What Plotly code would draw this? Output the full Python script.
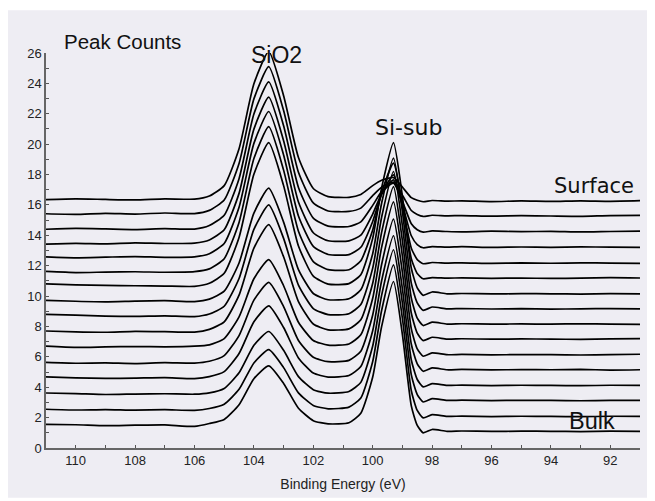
import plotly.graph_objects as go

# Binding energy grid (eV)
energy = [111.0, 110.0, 109.0, 108.0, 107.0, 106.0, 105.5, 105.0, 104.5, 104.0,
          103.5, 103.0, 102.5, 102.0, 101.5, 100.8, 100.4, 100.0, 99.7, 99.3,
          99.0, 98.7, 98.5, 98.3, 98.0, 97.5, 97.0, 96.0, 95.0, 94.0, 93.0, 92.0, 91.0]

# Offset spectra, surface (top) to bulk (bottom)
scan_01 = [16.35, 16.40, 16.36, 16.33, 16.40, 16.38, 16.59, 17.27, 19.70, 23.97,
           26.10, 23.19, 19.12, 17.08, 16.55, 16.50, 16.69, 17.27, 17.62, 17.80,
           17.17, 16.48, 16.31, 16.21, 16.29, 16.25, 16.27, 16.22, 16.26, 16.23, 16.27, 16.24, 16.28]
scan_02 = [15.42, 15.38, 15.45, 15.40, 15.47, 15.43, 15.64, 16.32, 18.73, 22.98,
           25.10, 22.21, 18.15, 16.13, 15.60, 15.57, 15.79, 16.61, 17.16, 17.50,
           16.64, 15.63, 15.37, 15.24, 15.32, 15.28, 15.30, 15.26, 15.29, 15.27, 15.25, 15.30, 15.31]
scan_03 = [14.40, 14.45, 14.42, 14.38, 14.44, 14.41, 14.64, 15.32, 17.73, 21.98,
           24.10, 21.21, 17.15, 15.13, 14.60, 14.58, 14.88, 15.97, 16.87, 17.43,
           16.24, 14.76, 14.37, 14.21, 14.29, 14.25, 14.23, 14.27, 14.24, 14.26, 14.22, 14.25, 14.27]
scan_04 = [13.42, 13.47, 13.44, 13.50, 13.46, 13.49, 13.69, 14.36, 16.76, 20.99,
           23.10, 20.22, 16.19, 14.17, 13.64, 13.63, 14.01, 15.40, 16.73, 17.65,
           16.03, 13.97, 13.39, 13.18, 13.26, 13.22, 13.25, 13.20, 13.23, 13.21, 13.24, 13.22, 13.20]
scan_05 = [12.58, 12.52, 12.56, 12.60, 12.55, 12.58, 12.79, 13.46, 15.85, 20.05,
           22.15, 19.29, 15.27, 13.27, 12.74, 12.73, 13.21, 14.91, 16.70, 17.98,
           15.91, 13.15, 12.40, 12.13, 12.21, 12.17, 12.19, 12.15, 12.18, 12.16, 12.19, 12.17, 12.15]
scan_06 = [11.62, 11.55, 11.58, 11.60, 11.57, 11.61, 11.79, 12.46, 14.85, 19.05,
           21.15, 18.29, 14.27, 12.27, 11.74, 11.73, 12.33, 14.35, 16.80, 18.75,
           16.06, 12.46, 11.48, 11.14, 11.22, 11.18, 11.20, 11.17, 11.19, 11.16, 11.18, 11.21, 11.19]
scan_07 = [10.80, 10.74, 10.70, 10.68, 10.66, 10.64, 10.84, 11.50, 13.86, 18.02,
           20.10, 17.27, 13.30, 11.31, 10.79, 10.82, 11.41, 13.80, 17.12, 20.10,
           16.57, 11.83, 10.54, 10.05, 10.27, 10.15, 10.17, 10.14, 10.16, 10.15, 10.13, 10.16, 10.15]
scan_08 = [9.72, 9.66, 9.62, 9.67, 9.70, 9.64, 9.80, 10.32, 12.18, 15.46,
           17.10, 14.87, 11.74, 10.17, 9.76, 9.82, 10.41, 12.79, 16.11, 19.08,
           15.56, 10.84, 9.55, 9.06, 9.28, 9.16, 9.18, 9.15, 9.17, 9.14, 9.16, 9.18, 9.16]
scan_09 = [8.80, 8.74, 8.68, 8.66, 8.70, 8.65, 8.82, 9.33, 11.16, 14.39,
           16.00, 13.80, 10.72, 9.18, 8.78, 8.84, 9.44, 11.84, 15.19, 18.20,
           14.63, 9.86, 8.55, 8.06, 8.28, 8.16, 8.18, 8.15, 8.17, 8.15, 8.18, 8.16, 8.14]
scan_10 = [7.70, 7.64, 7.62, 7.68, 7.66, 7.63, 7.81, 8.30, 10.06, 13.15,
           14.70, 12.59, 9.64, 8.16, 7.78, 7.84, 8.44, 10.84, 14.19, 17.20,
           13.64, 8.87, 7.56, 7.07, 7.29, 7.17, 7.19, 7.16, 7.18, 7.17, 7.15, 7.18, 7.20]
scan_11 = [6.70, 6.62, 6.65, 6.68, 6.66, 6.70, 6.79, 7.20, 8.63, 11.14,
           12.40, 10.68, 8.28, 7.08, 6.77, 6.85, 7.45, 9.86, 13.21, 16.20,
           12.63, 7.84, 6.53, 6.04, 6.26, 6.14, 6.16, 6.13, 6.15, 6.14, 6.12, 6.15, 6.17]
scan_12 = [5.63, 5.58, 5.60, 5.56, 5.62, 5.59, 5.71, 6.08, 7.40, 9.73,
           10.90, 9.31, 7.08, 5.97, 5.68, 5.77, 6.37, 8.75, 12.08, 15.07,
           11.56, 6.83, 5.54, 5.05, 5.27, 5.15, 5.17, 5.14, 5.16, 5.15, 5.17, 5.13, 5.15]
scan_13 = [4.68, 4.62, 4.58, 4.60, 4.63, 4.57, 4.70, 5.03, 6.22, 8.31,
           9.36, 7.93, 5.93, 4.93, 4.67, 4.77, 5.36, 7.72, 11.01, 13.97,
           10.48, 5.79, 4.51, 4.02, 4.24, 4.12, 4.14, 4.11, 4.13, 4.12, 4.10, 4.13, 4.12]
scan_14 = [3.62, 3.58, 3.52, 3.55, 3.57, 3.54, 3.63, 3.92, 4.95, 6.76,
           7.67, 6.43, 4.70, 3.84, 3.61, 3.72, 4.32, 6.71, 10.05, 13.05,
           9.54, 4.81, 3.52, 3.03, 3.25, 3.13, 3.15, 3.12, 3.14, 3.13, 3.11, 3.14, 3.13]
scan_15 = [2.55, 2.50, 2.53, 2.49, 2.52, 2.48, 2.60, 2.88, 3.86, 5.60,
           6.47, 5.29, 3.63, 2.80, 2.58, 2.69, 3.29, 5.69, 9.05, 12.06,
           8.53, 3.77, 2.47, 1.98, 2.20, 2.08, 2.10, 2.07, 2.09, 2.08, 2.06, 2.09, 2.08]
scan_16 = [1.55, 1.53, 1.47, 1.50, 1.52, 1.42, 1.61, 1.88, 2.85, 4.56,
           5.41, 4.25, 2.62, 1.80, 1.59, 1.66, 2.29, 4.67, 7.99, 10.96,
           7.47, 2.77, 1.49, 1.00, 1.22, 1.10, 1.12, 1.09, 1.11, 1.10, 1.08, 1.11, 1.10]

scans = [scan_01, scan_02, scan_03, scan_04, scan_05, scan_06, scan_07, scan_08,
         scan_09, scan_10, scan_11, scan_12, scan_13, scan_14, scan_15, scan_16]

x_ticks = [110, 108, 106, 104, 102, 100, 98, 96, 94, 92]
y_ticks = [0, 2, 4, 6, 8, 10, 12, 14, 16, 18, 20, 22, 24, 26]

BG = "#EEEDF3"
fig = go.Figure()
for s in scans:
    fig.add_trace(go.Scatter(x=energy, y=s, mode="lines",
                             line=dict(color="black", width=1.7, shape="spline", smoothing=0.55),
                             showlegend=False, hoverinfo="skip"))

axis_font = dict(family="Liberation Sans, Arial, sans-serif", size=13, color="#222")
fig.update_layout(
    width=647, height=493,
    margin=dict(l=38, r=15, t=45, b=53, autoexpand=False),
    paper_bgcolor="white", plot_bgcolor=BG,
    xaxis=dict(range=[111, 91], autorange=False, tickmode="array", tickvals=x_ticks,
               ticks="inside", ticklen=3, tickcolor="#555", showline=True, linecolor="#666",
               linewidth=1.5, showgrid=False, zeroline=False, tickfont=axis_font, automargin=False,
               minor=dict(tickmode="linear", tick0=0, dtick=1, ticks="inside", ticklen=3, tickcolor="#555"),
               title=dict(text="Binding Energy (eV)", font=dict(family="Liberation Sans, Arial, sans-serif", size=14, color="#222"), standoff=12)),
    yaxis=dict(range=[0, 26], autorange=False, tickmode="array", tickvals=y_ticks,
               ticks="inside", ticklen=3, tickcolor="#555", showline=True, linecolor="#666",
               linewidth=1.5, showgrid=False, zeroline=False, tickfont=axis_font, automargin=False,
               minor=dict(tickmode="linear", tick0=0, dtick=1, ticks="inside", ticklen=3, tickcolor="#555")),
    shapes=[dict(type="rect", xref="paper", yref="paper", x0=-0.07, x1=1.03, y0=-0.126, y1=1.108,
                 fillcolor=BG, line=dict(width=0), layer="below")],
)

ann_font = "Liberation Sans, Arial, sans-serif"
fig.add_annotation(text="Peak Counts", xref="paper", yref="paper", x=0.027, y=1.03,
                   xanchor="left", yanchor="middle", showarrow=False,
                   font=dict(family=ann_font, size=20.5, color="#111"))
fig.add_annotation(text="SiO2", x=103.23, y=25.87, xanchor="center", yanchor="middle",
                   showarrow=False, font=dict(family=ann_font, size=23, color="#111"))
fig.add_annotation(text="Si-sub", x=98.79, y=21.07, xanchor="center", yanchor="middle",
                   showarrow=False, font=dict(family="DejaVu Sans, sans-serif", size=22, color="#111"))
fig.add_annotation(text="Surface", x=92.56, y=17.22, xanchor="center", yanchor="middle",
                   showarrow=False, font=dict(family="DejaVu Sans, sans-serif", size=21, color="#111"))
fig.add_annotation(text="Bulk", x=92.63, y=1.76, xanchor="center", yanchor="middle",
                   showarrow=False, font=dict(family=ann_font, size=23.5, color="#111"))

fig.write_html("out.html")
